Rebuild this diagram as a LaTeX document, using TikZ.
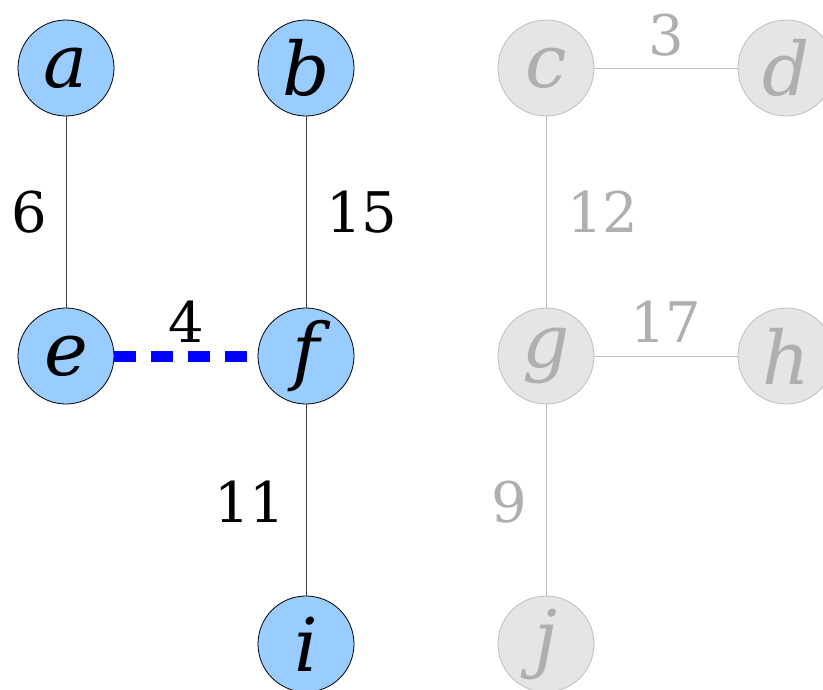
\documentclass[tikz,border=0pt]{standalone}
\usepackage{fontspec}
\setmainfont{DejaVu Serif}
\newcommand{\vlab}[1]{\raisebox{-4pt}{#1}}
\begin{document}
\begin{tikzpicture}[x=1pt,y=-1pt,
  vtx/.style={circle,minimum size=96pt,inner sep=0pt,font=\fontsize{74}{74}\selectfont\itshape},
  on/.style={vtx,draw=black,line width=0.8pt,fill=blueA,text=black},
  off/.style={vtx,draw=grayE,line width=0.8pt,fill=grayF,text=grayT},
  onedge/.style={draw=black!75,line width=0.9pt},
  offedge/.style={draw=grayE,line width=0.9pt},
  chosen/.style={draw=blue,line width=11pt,dash pattern=on 22pt off 15pt},
  wt/.style={font=\fontsize{56}{56}\selectfont,inner sep=0pt},
  wton/.style={wt,text=black},
  wtoff/.style={wt,text=grayT}]
\definecolor{blueA}{HTML}{99CCFF}
\definecolor{grayE}{HTML}{BDBDBD}
\definecolor{grayF}{HTML}{E5E5E5}
\definecolor{grayT}{HTML}{AFAFAF}
\useasboundingbox (0,0) rectangle (823,689);
\node[on] (a) at (66,68) {\vlab{a}};
\node[on] (b) at (306,68) {\vlab{b}};
\node[off] (c) at (546,68) {\vlab{c}};
\node[off] (d) at (786,68) {\vlab{d}};
\node[on] (e) at (66,356) {\vlab{e}};
\node[on] (f) at (306,356) {\vlab{f}};
\node[off] (g) at (546,356) {\vlab{g}};
\node[off] (h) at (786,356) {\vlab{h}};
\node[on] (i) at (306,644) {\vlab{i}};
\node[off] (j) at (546,644) {\vlab{j}};
\draw[onedge] (a) -- (e);
\draw[onedge] (b) -- (f);
\draw[onedge] (f) -- (i);
\draw[chosen] (e) -- (f);
\draw[offedge] (c) -- (d);
\draw[offedge] (c) -- (g);
\draw[offedge] (g) -- (h);
\draw[offedge] (g) -- (j);
\node[wton] (w6) at (29,212) {6};
\node[wton] (w15) at (362,212) {15};
\node[wton] (w4) at (186,322) {4};
\node[wton] (w11) at (250,502) {11};
\node[wtoff] (w3) at (666,35) {3};
\node[wtoff] (w12) at (603,212) {12};
\node[wtoff] (w17) at (666,322) {17};
\node[wtoff] (w9) at (509,502) {9};
\end{tikzpicture}
\end{document}
